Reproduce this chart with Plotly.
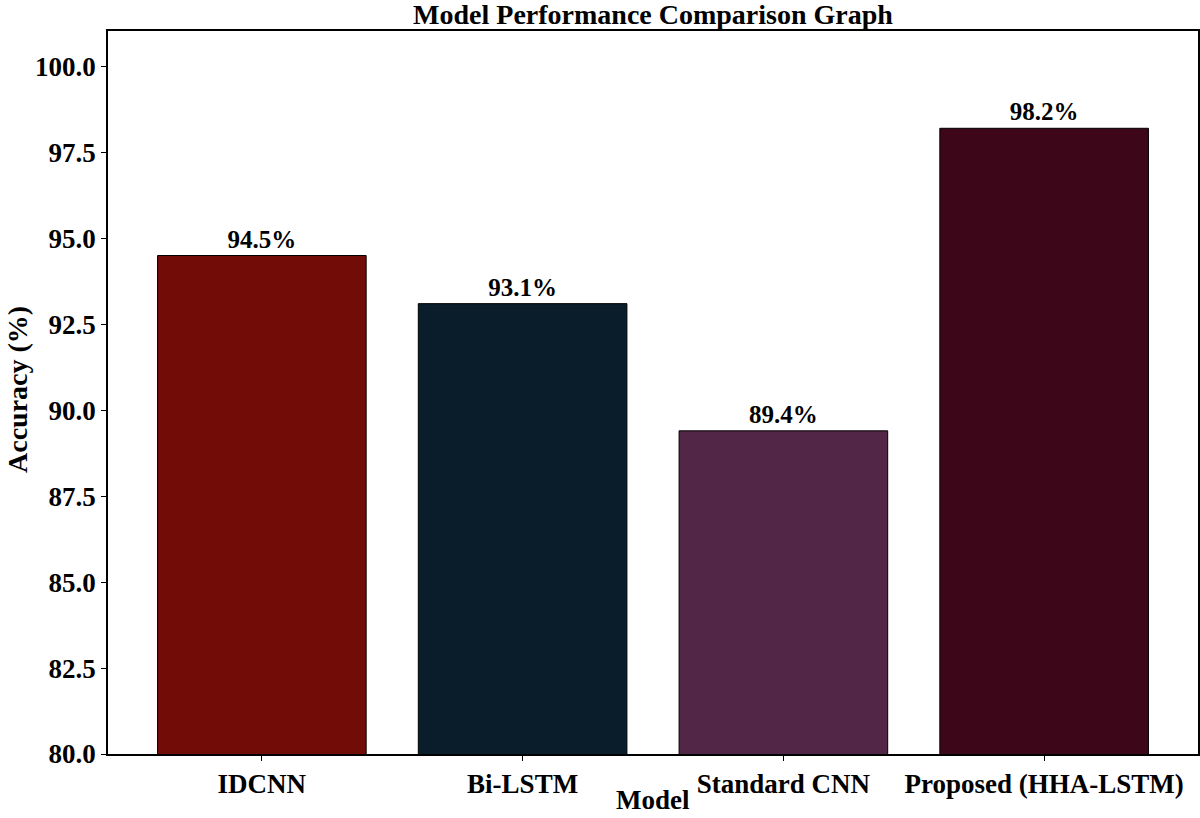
import plotly.graph_objects as go

models = ["IDCNN", "Bi-LSTM", "Standard CNN", "Proposed (HHA-LSTM)"]
accuracy = [94.5, 93.1, 89.4, 98.2]
bar_colors = ["#720c06", "#091e2a", "#522647", "#3d0719"]
y_ticks = [80.0, 82.5, 85.0, 87.5, 90.0, 92.5, 95.0, 97.5, 100.0]

FONT = "Liberation Serif"
W, H = 1200, 818
L, R, T, B = 108, 2, 31, 64
PW, PH = W - L - R, H - T - B

fig = go.Figure()
fig.add_trace(go.Bar(
    x=list(range(len(models))),
    y=accuracy,
    width=0.8,
    marker=dict(color=bar_colors, line=dict(color="black", width=1)),
    text=[f"{v:.1f}%" for v in accuracy],
    textposition="outside",
    cliponaxis=False,
    textfont=dict(family=FONT, size=25, color="black", weight="bold"),
))

fig.update_layout(
    width=W, height=H,
    margin=dict(l=L, r=R, t=T, b=B, autoexpand=False),
    paper_bgcolor="white", plot_bgcolor="white",
    showlegend=False,
    bargap=0.2,
    title=dict(
        text="<b>Model Performance Comparison Graph</b>",
        font=dict(family=FONT, size=28, color="black"),
        x=(L + W - R) / 2 / W, xanchor="center",
        yref="container", y=1, yanchor="top",
        pad=dict(t=4, b=0),
    ),
    xaxis=dict(
        range=[-0.59, 3.59],
        automargin=False,
        tickmode="array",
        tickvals=list(range(len(models))),
        ticktext=[f"<b>{m}</b>" for m in models],
        tickfont=dict(family=FONT, size=27, color="black"),
        ticks="outside", ticklen=5, tickcolor="black", tickwidth=1,
        showline=True, linecolor="black", linewidth=1.5, mirror=True,
        showgrid=False, zeroline=False,
    ),
    yaxis=dict(
        range=[80, 101.03],
        automargin=False,
        tickmode="array",
        tickvals=y_ticks,
        ticktext=[f"<b>{t:.1f}</b>" for t in y_ticks],
        tickfont=dict(family=FONT, size=27, color="black"),
        ticks="outside", ticklen=5, tickcolor="black", tickwidth=1,
        showline=True, linecolor="black", linewidth=1.5, mirror=True,
        showgrid=False, zeroline=False,
    ),
    annotations=[
        dict(
            text="<b>Model</b>", xref="paper", yref="paper",
            x=0.5, y=-29 / PH, xanchor="center", yanchor="top",
            showarrow=False, font=dict(family=FONT, size=27, color="black"),
        ),
        dict(
            text="<b>Accuracy (%)</b>", xref="paper", yref="paper",
            x=(17 - L) / PW, y=(H - B - 390) / PH, xanchor="center", yanchor="middle",
            textangle=-90, showarrow=False, font=dict(family=FONT, size=28, color="black"),
        ),
    ],
)

fig.write_html("out.html")
